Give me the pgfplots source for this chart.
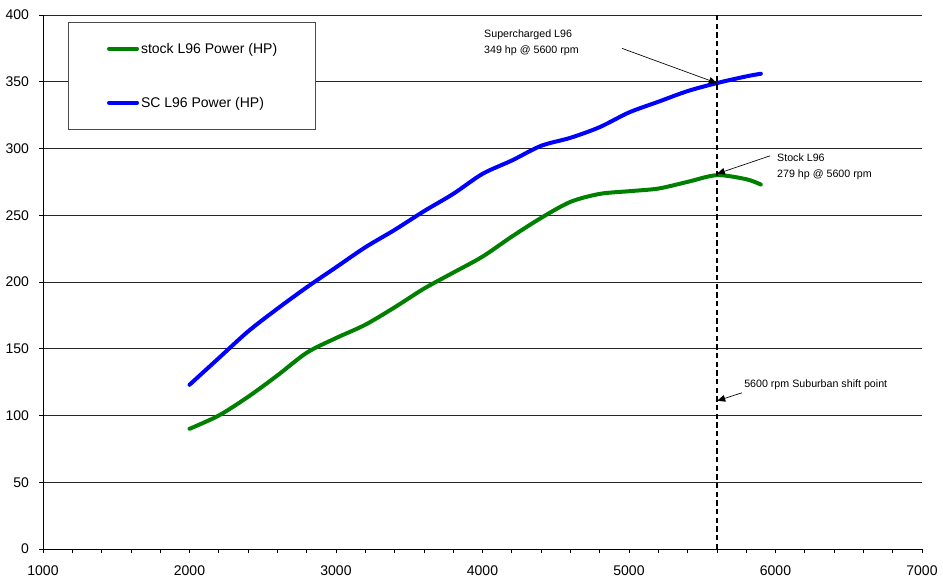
\documentclass[border=0pt]{standalone}
\usepackage{fontspec}
\setmainfont{Liberation Sans}
\usepackage{pgfplots}
\pgfplotsset{compat=1.18}
\usetikzlibrary{arrows.meta}

\definecolor{stockgreen}{RGB}{0,128,0}
\definecolor{scblue}{RGB}{0,0,255}

\begin{document}
\begin{tikzpicture}
\useasboundingbox (0,0) rectangle (707.25pt,433.5pt);
\begin{axis}[
    at={(32.25pt,21.75pt)}, anchor=south west,
    scale only axis,
    width=659.25pt, height=400.5pt,
    xmin=1000, xmax=7000,
    ymin=0, ymax=400,
    xtick={1000,2000,...,7000},
    minor x tick num=4,
    ytick={0,50,...,400},
    axis x line*=bottom, axis y line*=left,
    axis line style={black, line width=0.6pt, -},
    ymajorgrids,
    grid style={black!85, line width=0.5pt},
    tick align=outside,
    major tick length=3pt, minor tick length=3pt,
    tick style={black, line width=0.5pt},
    ticklabel style={font=\fontsize{10.5}{12}\selectfont},
    xticklabel style={yshift=-6pt},
    yticklabel style={xshift=-4pt},
    /pgf/number format/assume math mode=true,
    /pgf/number format/1000 sep={},
    legend style={
        at={(rel axis cs:0.0284,0.987)}, anchor=north west,
        draw=black!70, line width=0.6pt, fill=white,
        font=\fontsize{10.5}{12}\selectfont,
        inner xsep=29pt, inner ysep=16pt,
        row sep=33pt,
        nodes={inner sep=0pt, text height=7.5pt, text depth=0pt},
        /tikz/every odd column/.append style={column sep=1.5pt},
    },
    legend cell align=left,
    legend image code/.code={\draw[#1, line cap=round] (0pt,0pt) -- (21pt,0pt);},
]

% stock
\addplot[color=stockgreen, line width=3pt, smooth, line cap=round] coordinates {
    (2000,90) (2200,100) (2400,114) (2600,130) (2800,147) (3000,158)
    (3200,168) (3400,181) (3600,195) (3800,207) (4000,219) (4200,234)
    (4400,248) (4600,260) (4800,266) (5000,268) (5200,270) (5400,275)
    (5600,280) (5800,277) (5900,273)
};
\addlegendentry{stock L96 Power (HP)}

% supercharged
\addplot[color=scblue, line width=3pt, smooth, line cap=round] coordinates {
    (2000,123) (2200,143) (2400,163) (2600,180) (2800,196) (3000,211)
    (3200,226) (3400,239) (3600,253) (3800,266) (4000,281) (4200,291)
    (4400,302) (4600,308) (4800,316) (5000,327) (5200,335) (5400,343)
    (5600,349) (5800,354) (5900,356)
};
\addlegendentry{SC L96 Power (HP)}

% shift point
\addplot[black, line width=1.1pt, dash pattern=on 4pt off 2.5pt, forget plot] coordinates {(5600,0) (5600,400)};

\draw[gray!80, line width=0.6pt] (rel axis cs:1,0) -- (rel axis cs:1,1);

\draw[black, line width=0.5pt, -{Triangle[length=6pt,width=5pt]}] (axis cs:4952,375) -- (axis cs:5600,349);
\node[anchor=west, align=left, inner sep=0pt, font=\fontsize{8}{12}\selectfont] at (axis cs:4010,379) {Supercharged L96\\349 hp @ 5600 rpm};

\draw[black, line width=0.5pt, -{Triangle[length=6pt,width=5pt]}] (axis cs:5962,294.5) -- (axis cs:5600,281);
\node[anchor=west, align=left, inner sep=0pt, font=\fontsize{8}{12}\selectfont] at (axis cs:6010,286.5) {Stock L96\\279 hp @ 5600 rpm};

\draw[black, line width=0.5pt, -{Triangle[length=6pt,width=5pt]}] (axis cs:5771,117) -- (axis cs:5602,111);
\node[anchor=west, inner sep=0pt, font=\fontsize{8}{12}\selectfont] at (axis cs:5785,123) {5600 rpm Suburban shift point};

\end{axis}
\end{tikzpicture}
\end{document}
